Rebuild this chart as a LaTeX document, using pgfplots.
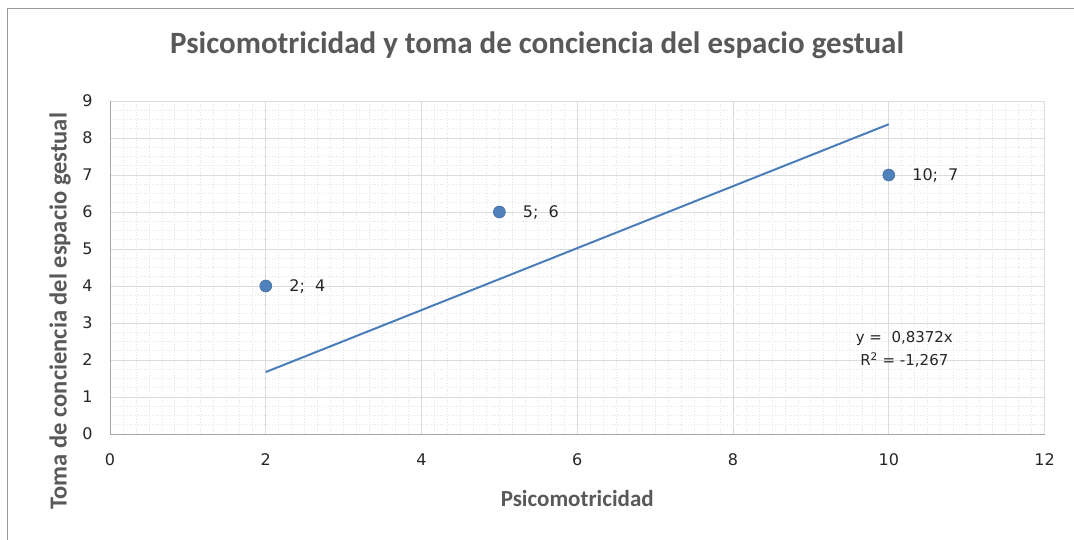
\documentclass[border=0pt]{standalone}
\usepackage{pgfplots}
\pgfplotsset{compat=1.18}
\usepackage{fontspec}
\setmainfont{Carlito}
\newfontfamily\tickfont{DejaVu Sans}
\newcommand\semic{;}
\definecolor{excelblue}{HTML}{4F81BD}
\definecolor{trendblue}{HTML}{4A7EBB}
\definecolor{titlegray}{HTML}{595959}
\definecolor{gridgray}{HTML}{D9DCE0}
\definecolor{dotgray}{HTML}{E2E4E8}
\definecolor{axisgray}{HTML}{A6A6A6}
\begin{document}
\begin{tikzpicture}
\useasboundingbox (0,0) rectangle (1074bp,540bp);
\draw[color=gray!80, line width=1bp] (7bp,0) -- (7bp,531bp) -- (1074bp,531bp);
\begin{axis}[
  at={(110bp,106bp)}, anchor=south west,
  scale only axis, width=934.5bp, height=333bp,
  xmin=0, xmax=12, ymin=0, ymax=9,
  xtick={0,2,...,12}, ytick={0,1,...,9},
  minor x tick num=11, minor y tick num=3,
  major tick length=0pt, minor tick length=0pt,
  grid=both,
  major grid style={color=gridgray, line width=0.9bp},
  minor grid style={color=dotgray, line width=0.8bp, dotted},
  axis line style={color=axisgray, line width=1bp},
  separate axis lines,
  x axis line style={-},
  y axis line style={-},
  axis x line*=bottom, axis y line*=left,
  /pgf/number format/assume math mode=true,
  ticklabel style={font=\tickfont\fontsize{16bp}{18bp}\selectfont, text=black!85},
  xticklabel style={yshift=-16bp},
  yticklabel style={xshift=-14bp},
  xlabel={Psicomotricidad},
  ylabel={Toma de conciencia del espacio gestual},
  xlabel style={at={(axis description cs:0.50,-0.219)}, anchor=base,
    font=\bfseries\fontsize{23bp}{26bp}\selectfont, text=titlegray},
  ylabel style={at={(axis description cs:-0.0535,0.369)}, anchor=center, rotate=0,
    font=\bfseries\fontsize{24.5bp}{27bp}\selectfont, text=titlegray},
  title={Psicomotricidad y toma de conciencia del espacio gestual},
  title style={at={(axis description cs:0.457,1.126)}, anchor=base,
    font=\bfseries\fontsize{31bp}{34bp}\selectfont, text=titlegray},
  clip=false,
]
\addplot[trendblue, line width=2bp] coordinates {(2,1.6744) (10,8.372)};
\addplot[only marks, mark=*, mark size=6bp, mark options={fill=excelblue, draw=excelblue!80!black, line width=0.5bp},
  nodes near coords, point meta=explicit symbolic,
  nodes near coords style={anchor=west, xshift=20bp, yshift=0bp, font=\tickfont\fontsize{16bp}{18bp}\selectfont, text=black!85}]
  coordinates {(2,4)[{2\semic\ \ 4}] (5,6)[{5\semic\ \ 6}] (10,7)[{10\semic\ \ 7}]};
\node[font=\tickfont\fontsize{15bp}{17bp}\selectfont, text=black!85, align=center, inner sep=0pt]
  at (axis cs:10.2,2.28) {y = \ 0,8372x\\[6bp]R\textsuperscript{2} = -1,267};
\end{axis}
\end{tikzpicture}
\end{document}
